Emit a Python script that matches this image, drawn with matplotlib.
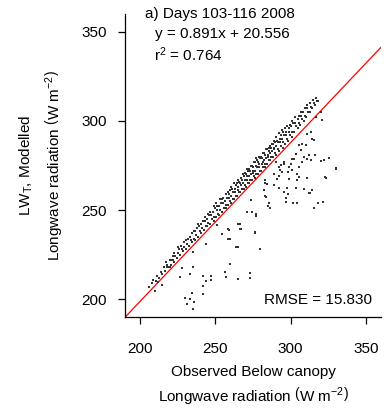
import matplotlib
matplotlib.use("Agg")
import matplotlib.pyplot as plt
import numpy as np

plt.rcParams['font.family'] = ['Liberation Sans', 'DejaVu Sans']
plt.rcParams['mathtext.fontset'] = 'custom'
plt.rcParams['mathtext.rm'] = 'Liberation Sans'
plt.rcParams['mathtext.it'] = 'Liberation Sans:italic'
plt.rcParams['mathtext.bf'] = 'Liberation Sans:bold'

# ---- data: observed (x) vs modelled (y) longwave radiation ----
band_x = [206.2,
          207.6, 208.7, 210.4, 211.5, 212.8, 213.9, 214.3, 215.6,
          216.5, 217.8, 217.1, 218.6, 219.7, 220.3, 221.4, 221.9,
          222.8, 223.5, 222.4, 224.3, 225.4, 225.8, 224.9,
          226.6, 227.8, 227.2, 228.4, 229.5, 229.1,
          230.7, 231.3, 230.2, 231.8, 232.5, 233.6, 233.1,
          234.2, 235.5, 234.8, 235.9, 236.7, 237.3, 236.4, 237.8,
          238.3, 239.6, 239.1, 238.7, 240.6, 241.2, 240.3, 241.7,
          242.4, 243.5, 243.0, 242.8, 244.7, 245.3, 244.2, 245.8, 245.1,
          246.5, 247.6, 247.1, 246.3, 248.8, 249.4, 248.2, 249.7, 249.0,
          250.3, 251.6, 250.9, 251.2, 250.5, 252.7, 253.2, 252.4, 253.8, 253.0,
          254.5, 255.7, 255.1, 254.2, 255.4, 256.8, 257.3, 256.4, 257.7, 257.0,
          258.3, 259.6, 258.9, 259.2, 258.6, 259.8,
          260.7, 261.4, 260.2, 261.8, 261.0, 260.5,
          262.4, 263.7, 263.1, 262.8, 263.4, 262.2,
          264.3, 265.6, 264.9, 265.2, 264.6, 265.9, 265.1,
          266.5, 267.8, 267.2, 266.3, 267.5, 266.9,
          268.7, 269.4, 268.2, 269.8, 269.1, 268.5, 269.6,
          270.3, 271.5, 270.8, 271.2, 270.6, 271.9, 271.0,
          272.6, 273.3, 272.2, 273.7, 273.0, 272.4, 273.5,
          274.4, 275.7, 275.1, 274.8, 275.3, 274.2, 275.9,
          276.6, 277.2, 276.3, 277.8, 277.0, 276.5, 277.4, 276.9,
          278.5, 279.6, 278.9, 279.2, 278.3, 279.8, 279.0,
          280.2, 281.4, 280.7, 281.8, 281.1, 280.4, 281.6,
          282.7, 283.3, 282.4, 283.8, 283.0, 282.2, 283.5,
          284.4, 285.6, 285.0, 284.7, 285.3, 284.2, 285.8,
          286.6, 287.2, 286.3, 287.7, 287.0, 286.5, 287.4,
          288.3, 289.5, 288.8, 289.1, 288.5, 289.7, 289.0,
          290.6, 291.3, 290.2, 291.8, 291.0, 290.5,
          292.4, 293.6, 293.0, 292.7, 293.3, 292.2,
          294.7, 295.2, 294.3, 295.8, 295.0, 294.5,
          296.5, 297.4, 296.8, 297.1, 296.3, 297.7,
          298.3, 299.6, 299.0, 298.7, 299.3,
          300.6, 301.2, 300.4, 301.7, 301.0,
          302.4, 303.5, 303.0, 302.7, 304.6, 305.3, 304.9, 305.7,
          306.3, 307.5, 306.8, 307.2, 308.7, 309.4, 308.5, 309.8,
          310.4, 311.6, 311.0, 310.7, 312.6, 313.3, 312.9,
          314.5, 315.7, 315.1, 316.3, 317.4, 316.8, 318.2]
band_y = [207,
          209, 211, 210, 213, 212, 215, 214, 218,
          216, 219, 221, 218, 222, 219, 222, 224,
          221, 224, 226, 223, 226, 228, 229,
          225, 228, 230, 227, 229, 232,
          228, 231, 233, 234, 230, 233, 235,
          232, 234, 237, 238, 233, 236, 238, 240,
          235, 238, 241, 242, 237, 240, 242, 244,
          239, 241, 244, 246, 241, 243, 245, 247, 248,
          242, 245, 247, 249, 244, 246, 249, 251, 252,
          246, 248, 250, 252, 254, 247, 250, 252, 254, 256,
          249, 251, 254, 256, 257, 251, 253, 255, 257, 259,
          253, 255, 257, 259, 260, 261,
          254, 256, 258, 260, 262, 263,
          256, 258, 260, 262, 264, 265,
          258, 260, 261, 263, 265, 266, 267,
          260, 262, 264, 265, 267, 268,
          262, 264, 265, 267, 269, 270, 271,
          263, 265, 267, 269, 270, 272, 273,
          265, 267, 269, 270, 272, 273, 275,
          267, 269, 271, 272, 274, 275, 277,
          268, 270, 272, 274, 275, 277, 278, 279,
          270, 272, 274, 276, 277, 279, 280,
          272, 274, 276, 277, 279, 280, 282,
          274, 276, 278, 279, 281, 282, 284,
          276, 278, 280, 281, 283, 284, 285,
          278, 280, 282, 283, 285, 286, 287,
          280, 282, 284, 285, 287, 288, 289,
          281, 284, 286, 288, 289, 291,
          283, 286, 288, 290, 292, 293,
          285, 288, 290, 292, 294, 295,
          287, 290, 292, 294, 296, 297,
          289, 292, 294, 296, 298,
          291, 294, 297, 299, 300,
          294, 297, 299, 302, 296, 299, 301, 303,
          298, 301, 303, 305, 300, 303, 305, 307,
          302, 305, 307, 309, 305, 308, 310,
          307, 310, 312, 309, 311, 313, 311]

scatter_x = [210.0, 212.2, 214.4, 217.8, 220.0, 222.2, 226.7, 227.8, 232.9, 235.1,
             230.0, 231.1, 234.4, 235.6, 235.1, 233.3, 241.8, 241.8, 241.8, 244.0,
             247.1, 247.1, 244.0, 256.7, 257.3, 258.4, 254.4, 235.1, 265.1, 273.3,
             273.3, 260.0, 279.5, 276.0, 277.3, 266.2, 266.2, 264.0, 258.4, 251.1,
             271.1, 285.6, 286.2, 283.3, 288.9, 291.1, 296.7, 298.2, 301.6, 304.4,
             308.9, 304.0, 312.2, 315.6, 318.2, 321.8, 322.7, 320.4, 325.6, 330.0,
             312.2, 308.9, 310.0, 314.4, 313.3, 307.8, 305.5, 302.2, 300.0, 300.7,
             295.5, 292.9, 294.4, 288.9, 304.4, 283.1, 283.8, 273.8, 274.4, 277.3,
             284.9, 295.5, 296.7, 312.9, 265.1, 266.7, 258.9, 276.2, 259.5, 265.1,
             320.0, 321.1, 316.7, 315.6, 311.1, 311.1, 313.3, 316.2, 322.2, 330.4,
             323.3, 311.1, 306.7, 303.3, 301.1, 298.9, 298.4, 293.3, 292.2, 298.9,
             303.3, 297.8, 292.2, 283.3, 284.4, 282.2, 305.5, 314.4, 307.8, 305.5,
             290.0, 295.5, 292.2]
scatter_y = [204.7, 209.8, 207.9, 217.8, 218.2, 221.9, 212.6, 217.3, 213.9, 218.2,
             200.8, 197.1, 203.3, 198.2, 194.3, 200.1, 213.1, 207.4, 202.7, 210.2,
             213.0, 211.0, 230.9, 215.0, 212.5, 234.0, 236.3, 226.6, 211.1, 214.5,
             212.0, 220.0, 227.9, 237.8, 247.7, 242.1, 239.1, 229.4, 239.1, 241.5,
             249.0, 254.0, 251.4, 265.2, 263.9, 267.7, 254.6, 258.9, 254.0, 254.0,
             262.0, 266.7, 259.3, 251.4, 254.0, 254.6, 268.6, 277.5, 279.4, 273.8,
             280.7, 279.8, 286.3, 290.0, 293.8, 287.3, 286.3, 278.9, 276.0, 272.3,
             276.0, 272.7, 271.4, 270.5, 270.5, 257.9, 257.3, 255.5, 249.0, 246.6,
             252.2, 260.2, 257.0, 259.7, 241.9, 239.3, 238.7, 237.4, 233.7, 229.0,
             305.0, 300.3, 302.2, 289.1, 292.9, 278.9, 277.9, 280.7, 277.9, 273.3,
             268.2, 268.2, 283.5, 281.6, 278.9, 274.2, 271.4, 275.1, 269.0, 267.7,
             262.6, 262.1, 262.1, 266.7, 264.9, 261.1, 268.6, 261.5, 277.0, 274.2,
             277.0, 277.0, 274.2]

slope = 0.891
intercept = 20.556
r2 = 0.764
rmse = 15.830
x_ticks = [200, 250, 300, 350]
y_ticks = [200, 250, 300, 350]
title = "a) Days 103-116 2008"

# ---- figure ----
W, H = 384, 408
fig = plt.figure(figsize=(W / 100, H / 100), dpi=100)
L, R, T, B = 125, 381, 14, 317
ax = fig.add_axes([L / W, 1 - B / H, (R - L) / W, (B - T) / H])

ax.scatter(band_x + scatter_x, band_y + scatter_y, s=1.0, marker='s',
           c='#333333', linewidths=0, zorder=3)

xl = np.array([190.0, 360.0])
ax.plot(xl, slope * xl + intercept, color='red', lw=0.9, zorder=2)

ax.set_xlim(190, 360)
ax.set_ylim(190, 360)
ax.set_xticks(x_ticks)
ax.set_yticks(y_ticks)
for s in ['top', 'right']:
    ax.spines[s].set_visible(False)
for s in ['left', 'bottom']:
    ax.spines[s].set_linewidth(0.9)
ax.tick_params(axis='both', direction='out', length=5, width=0.9,
               labelsize=11, colors='black')
ax.tick_params(axis='x', pad=13)
ax.tick_params(axis='y', pad=8)

ax.text((145 - L) / (R - L), (B - 18) / (B - T), title, transform=ax.transAxes,
        fontsize=11, ha='left', va='baseline')
ax.text((155 - L) / (R - L), (B - 38) / (B - T),
        "y = %.3fx + %.3f" % (slope, intercept), transform=ax.transAxes,
        fontsize=11, ha='left', va='baseline')
ax.text((154 - L) / (R - L), (B - 61) / (B - T),
        r"$\mathrm{r^2}$ = %.3f" % r2, transform=ax.transAxes,
        fontsize=11, ha='left', va='baseline')
ax.text((372 - L) / (R - L), (B - 304) / (B - T),
        "RMSE = %.3f" % rmse, transform=ax.transAxes,
        fontsize=11, ha='right', va='baseline')

cx = (L + R) / 2 / W
fig.text(cx, 1 - 376 / H, "Observed Below canopy", fontsize=11,
         ha='center', va='baseline')
fig.text(cx, 1 - 401 / H, r"Longwave radiation $\left(\mathrm{W\ m^{-2}}\right)$",
         fontsize=11, ha='center', va='baseline')

cy = 1 - (T + B) / 2 / H
fig.text(31 / W, cy, r"$\mathrm{LW_T}$, Modelled", fontsize=11, rotation=90,
         rotation_mode='anchor', ha='center', va='baseline')
fig.text(59 / W, cy, r"Longwave radiation $\left(\mathrm{W\ m^{-2}}\right)$",
         fontsize=11, rotation=90, rotation_mode='anchor', ha='center', va='baseline')

fig.savefig("out.png", dpi=100)
